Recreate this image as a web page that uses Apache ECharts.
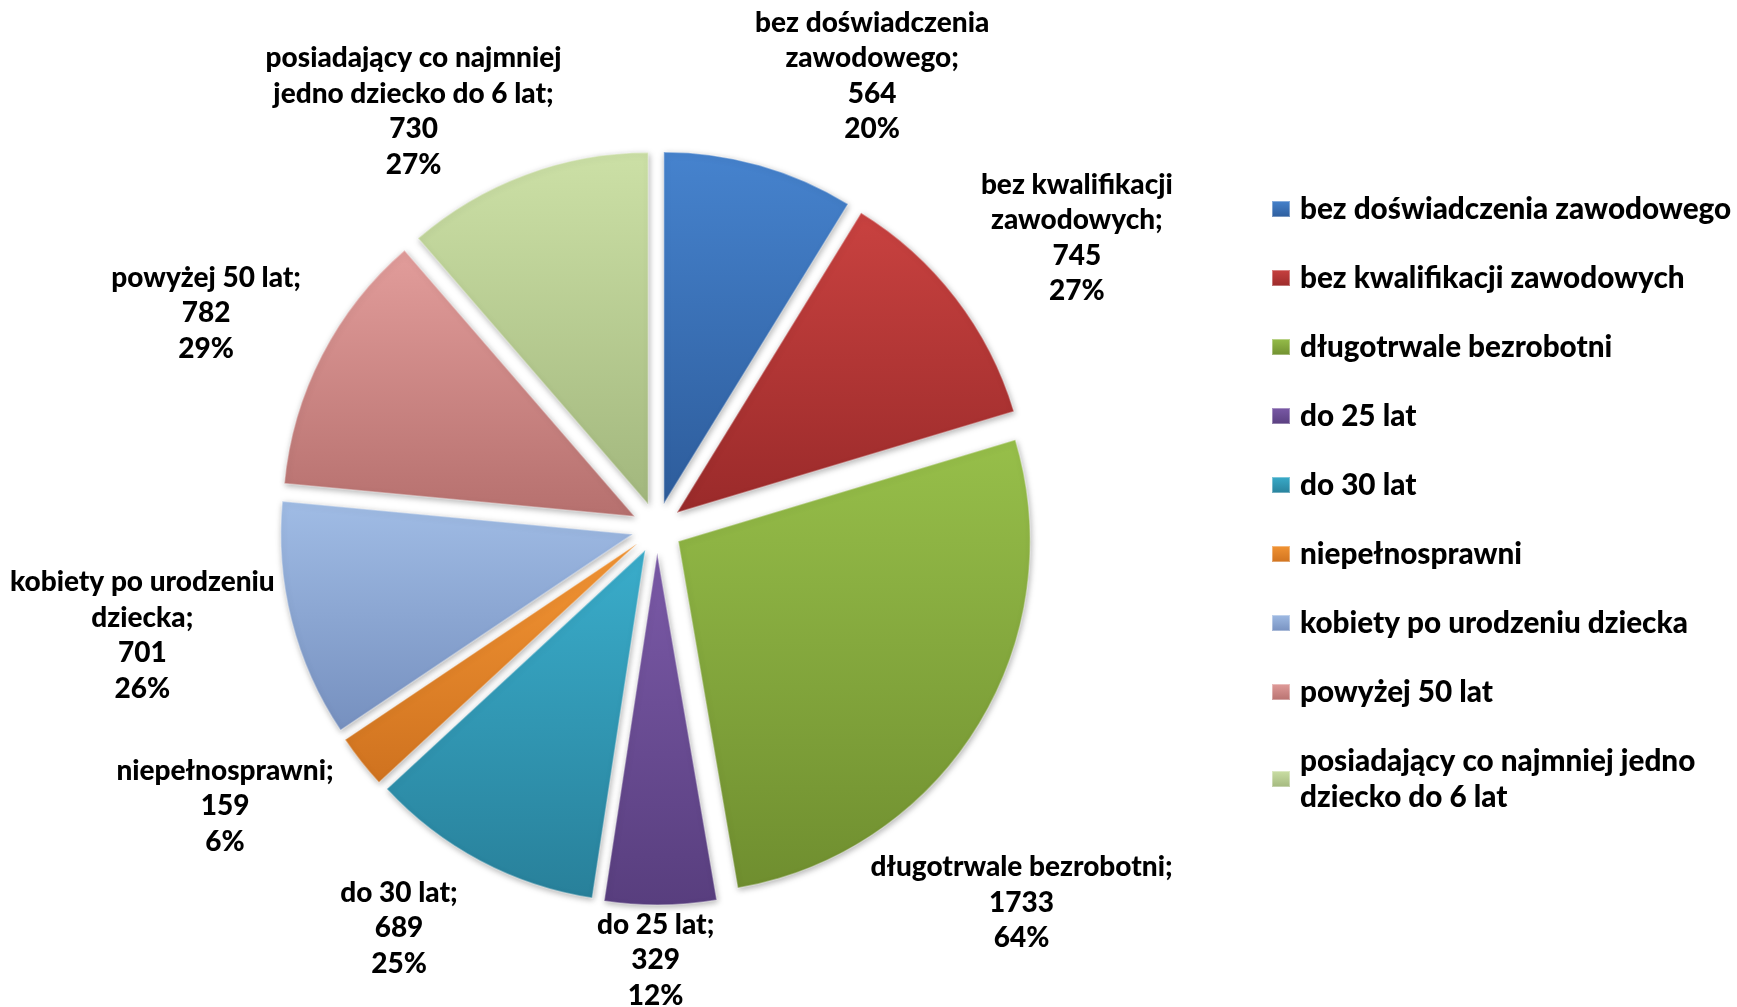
<!DOCTYPE html>
<html>
<head>
<meta charset="utf-8">
<title>Pie</title>
<script src="https://cdn.jsdelivr.net/npm/echarts@6/dist/echarts.min.js"></script>
<style>
  html, body { margin: 0; padding: 0; background: #fff; }
  #chart { width: 1737px; height: 1007px; }
</style>
</head>
<body>
<div id="chart"></div>
<script>
// categories (legend names)
const categories = [
  'bez doświadczenia zawodowego',
  'bez kwalifikacji zawodowych',
  'długotrwale bezrobotni',
  'do 25 lat',
  'do 30 lat',
  'niepełnosprawni',
  'kobiety po urodzeniu dziecka',
  'powyżej 50 lat',
  'posiadający co najmniej jedno dziecko do 6 lat'
]
// label text as it is wrapped on the chart
const labelNames = [
  'bez doświadczenia\nzawodowego;',
  'bez kwalifikacji\nzawodowych;',
  'długotrwale bezrobotni;',
  'do 25 lat;',
  'do 30 lat;',
  'niepełnosprawni;',
  'kobiety po urodzeniu\ndziecka;',
  'powyżej 50 lat;',
  'posiadający co najmniej\njedno dziecko do 6 lat;'
]
const values = [564, 745, 1733, 329, 689, 159, 701, 782, 730]
const percents = ['20%', '27%', '64%', '12%', '25%', '6%', '26%', '29%', '27%']

// kolory: góra / dół gradientu
const topColors = ['#4683CE', '#C94240', '#97BF4A', '#7B5AA8', '#3AADCB', '#F39534', '#A0BCE5', '#E29D9B', '#CCE0A6']
const bottomColors = ['#2D5C9B', '#9A2A2A', '#6F8E2F', '#583E7E', '#28809A', '#CF721F', '#7690BF', '#B6706E', '#A2B77D']

// przesunięcia etykiet względem domyślnej pozycji
const labelNudge = [[75, 26], [21, 13], [-63, 113], [-11, -65], [-20, -39], [-37, -30], [-28, -15], [-4, 13], [-65, 49]]

const legendNames = {
  'posiadający co najmniej jedno dziecko do 6 lat': 'posiadający co najmniej jedno\ndziecko do 6 lat'
}

const chart = echarts.init(document.getElementById('chart'))

const data = categories.map((name, i) => ({
  name: name,
  value: values[i],
  selected: true,
  itemStyle: {
    color: new echarts.graphic.LinearGradient(0, 0, 0, 1, [
      { offset: 0, color: topColors[i] },
      { offset: 1, color: bottomColors[i] }
    ])
  }
}))

chart.setOption({
  animation: false,
  legend: {
    orient: 'vertical',
    left: 1266,
    top: 186,
    itemWidth: 18,
    itemHeight: 16,
    itemGap: 33,
    icon: 'rect',
    selectedMode: false,
    formatter: name => legendNames[name] || name,
    textStyle: {
      fontFamily: 'Lato, "Noto Sans", sans-serif',
      fontWeight: 900,
      fontSize: 29.7,
      lineHeight: 36,
      color: '#000',
      padding: [0, 0, 0, 5]
    }
  },
  series: [{
    type: 'pie',
    center: [657, 528],
    radius: [0, 352],
    startAngle: 90,
    clockwise: true,
    selectedMode: 'multiple',
    selectedOffset: 25,
    avoidLabelOverlap: false,
    data: data,
    itemStyle: {
      borderWidth: 1.5,
      borderColor: 'rgba(255,255,255,0.35)',
      shadowBlur: 6,
      shadowColor: 'rgba(0,0,0,0.3)',
      shadowOffsetX: 1,
      shadowOffsetY: 2
    },
    select: {
      itemStyle: {
        borderWidth: 1.5,
        borderColor: 'rgba(255,255,255,0.35)'
      }
    },
    emphasis: { disabled: true },
    label: {
      show: true,
      position: 'outside',
      formatter: p => labelNames[p.dataIndex] + '\n' + values[p.dataIndex] + '\n' + percents[p.dataIndex],
      fontFamily: 'Lato, "Noto Sans", sans-serif',
      fontWeight: 900,
      fontSize: 28,
      lineHeight: 35.5,
      color: '#000'
    },
    labelLine: {
      show: false,
      length: 120,
      length2: 0
    },
    labelLayout: params => ({
      align: 'center',
      verticalAlign: 'middle',
      dx: labelNudge[params.dataIndex][0],
      dy: labelNudge[params.dataIndex][1]
    })
  }]
})

window.addEventListener('resize', () => chart.resize())
</script>
</body>
</html>
